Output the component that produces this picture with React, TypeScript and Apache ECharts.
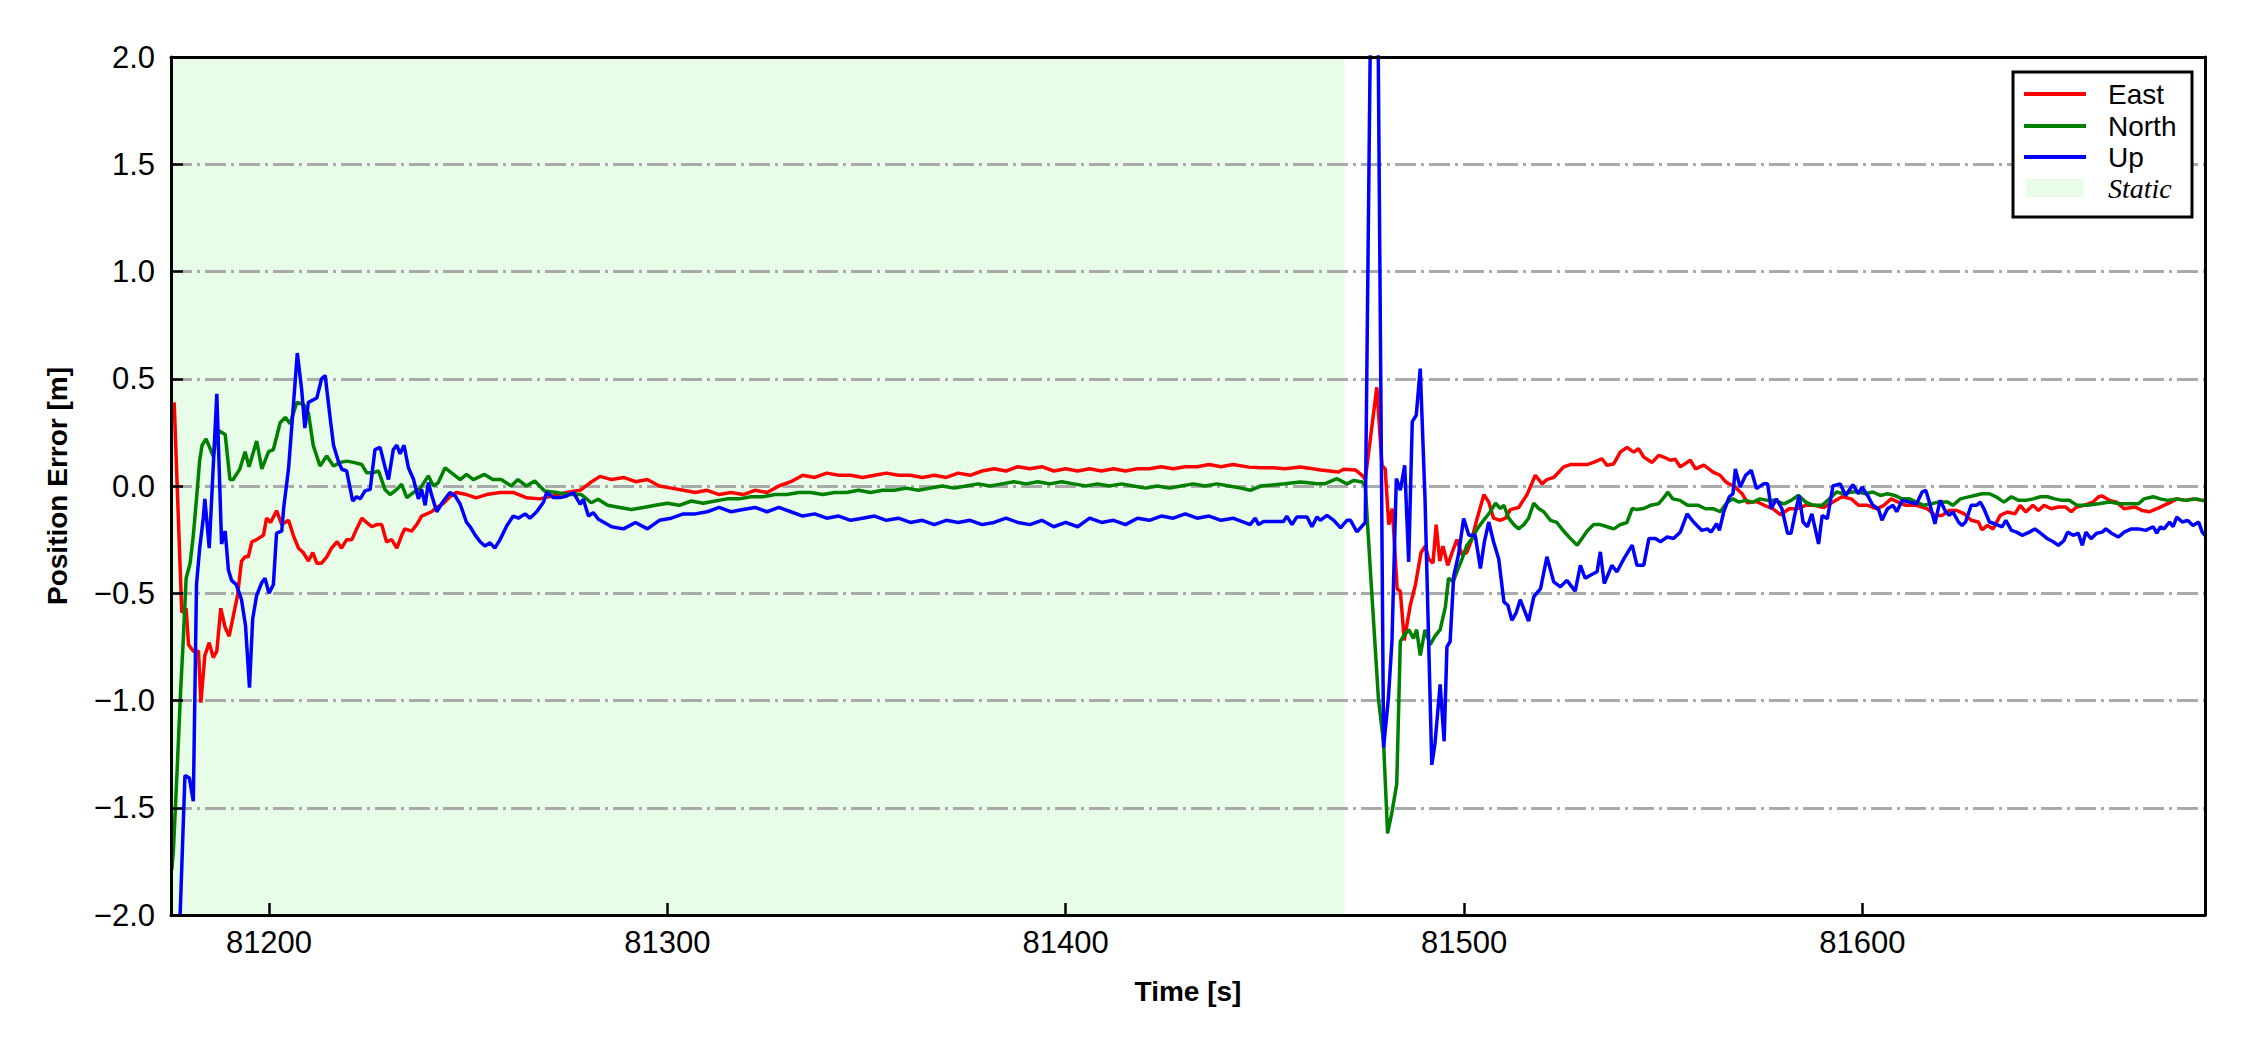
import React, { useEffect, useRef } from "react";
import * as echarts from "echarts";

const X_MIN = 81175.4;
const X_MAX = 81686;
const STATIC_END = 81470;
const xTicks = [81200, 81300, 81400, 81500, 81600];
const yMin = -2;
const yMax = 2;
const yStep = 0.5;
const seriesNames = ["East", "North", "Up"];
const staticLabel = "Static";

const eastData: number[][] = [
  [81176.2, 0.39], [81178.1, -0.59], [81179.2, -0.57], [81179.8, -0.74], [81181.0, -0.77], [81182.3, -0.77],
  [81182.9, -1.01], [81183.9, -0.79], [81185.0, -0.73], [81186.0, -0.8], [81186.9, -0.77], [81187.9, -0.57],
  [81189.0, -0.66], [81190.0, -0.7], [81191.0, -0.61], [81192.1, -0.51], [81193.1, -0.35], [81194.0, -0.33],
  [81194.8, -0.33], [81195.7, -0.26], [81196.9, -0.25], [81198.6, -0.23], [81199.4, -0.15], [81200.4, -0.17],
  [81201.9, -0.115], [81203.2, -0.18], [81204.9, -0.16], [81206.1, -0.23], [81207.4, -0.29], [81208.6, -0.31],
  [81209.9, -0.35], [81211.0, -0.31], [81212.0, -0.36], [81213.2, -0.36], [81214.5, -0.33], [81215.7, -0.29],
  [81217.1, -0.26], [81218.2, -0.29], [81219.5, -0.25], [81220.8, -0.25], [81222.0, -0.2], [81223.3, -0.15],
  [81224.5, -0.17], [81225.8, -0.19], [81227.0, -0.18], [81228.3, -0.18], [81229.5, -0.26], [81230.8, -0.25],
  [81232.1, -0.29], [81233.3, -0.23], [81234.1, -0.2], [81235.8, -0.21], [81237.1, -0.18], [81238.3, -0.14],
  [81239.6, -0.13], [81240.8, -0.12], [81242.1, -0.1], [81243.8, -0.08], [81245.4, -0.05], [81247.0, -0.03],
  [81249.6, -0.04], [81252.0, -0.055], [81254.6, -0.04], [81258.0, -0.03], [81261.3, -0.03], [81264.7, -0.055],
  [81268.0, -0.06], [81271.4, -0.045], [81274.7, -0.03], [81278.1, -0.02], [81280.6, 0.015], [81283.1, 0.045],
  [81286, 0.03], [81289, 0.04], [81292, 0.02], [81295, 0.03], [81298, 0.0], [81301, -0.01], [81304, -0.02],
  [81307, -0.03], [81310, -0.02], [81313, -0.04], [81316, -0.03], [81319, -0.04], [81322, -0.02], [81325, -0.03],
  [81328, 0.0], [81331, 0.02], [81334, 0.05], [81337, 0.04], [81340, 0.06], [81343, 0.05], [81346, 0.05],
  [81349, 0.04], [81352, 0.05], [81355, 0.06], [81358, 0.05], [81361, 0.05], [81364, 0.04], [81367, 0.05],
  [81370, 0.04], [81373, 0.06], [81376, 0.05], [81379, 0.07], [81382, 0.08], [81385, 0.07], [81388, 0.09],
  [81391, 0.08], [81394, 0.09], [81397, 0.07], [81400, 0.08], [81403, 0.07], [81406, 0.08], [81409, 0.07],
  [81412, 0.08], [81415, 0.07], [81418, 0.08], [81421, 0.08], [81424, 0.09], [81427, 0.08], [81430, 0.09],
  [81433, 0.09], [81436, 0.1], [81439, 0.09], [81442, 0.1], [81446, 0.088], [81449, 0.085], [81452, 0.085],
  [81455, 0.08], [81458.9, 0.089], [81462, 0.08], [81464, 0.075], [81468.5, 0.065], [81469.8, 0.078],
  [81472.7, 0.075], [81474.4, 0.05], [81475.2, 0.03], [81478.1, 0.46], [81479.4, 0.096], [81480.2, 0.08],
  [81481.1, -0.18], [81482.0, -0.105], [81483.2, -0.48], [81484.0, -0.49], [81485.0, -0.72], [81486.5, -0.556],
  [81487.8, -0.46], [81489.2, -0.31], [81490.3, -0.28], [81491.1, -0.34], [81492.2, -0.36], [81493.0, -0.18],
  [81493.9, -0.35], [81494.7, -0.28], [81495.9, -0.37], [81497.0, -0.31], [81498.2, -0.25], [81499.5, -0.32],
  [81500.7, -0.31], [81502.0, -0.245], [81503.3, -0.15], [81505.0, -0.04], [81506.2, -0.075], [81507.4, -0.15],
  [81509.1, -0.16], [81510.4, -0.15], [81511.6, -0.11], [81513.7, -0.1], [81515.8, -0.04], [81517.9, 0.05],
  [81519.6, 0.01], [81520.8, 0.03], [81522.5, 0.04], [81523.8, 0.065], [81525.0, 0.089], [81526.7, 0.1],
  [81528.4, 0.1], [81530.9, 0.1], [81532.5, 0.11], [81534.6, 0.127], [81535.9, 0.096], [81537.6, 0.104],
  [81539.2, 0.158], [81540.9, 0.18], [81542.6, 0.158], [81543.8, 0.174], [81545.1, 0.135], [81547.2, 0.11],
  [81548.9, 0.143], [81550.1, 0.135], [81551.8, 0.12], [81553.0, 0.125], [81554.3, 0.089], [81556.8, 0.12],
  [81558.1, 0.08], [81560.2, 0.097], [81562.5, 0.065], [81564.3, 0.05], [81565.7, 0.019], [81568.0, -0.005],
  [81569.8, -0.036], [81571.1, -0.078], [81573.4, -0.072], [81575.7, -0.093], [81577.5, -0.106], [81579.4, -0.134],
  [81581.6, -0.106], [81583.5, -0.106], [81585.8, -0.09], [81588.0, -0.09], [81590.3, -0.1], [81592.6, -0.075],
  [81594.9, -0.05], [81597.2, -0.06], [81599.0, -0.09], [81601.3, -0.09], [81603.6, -0.106], [81605.4, -0.09],
  [81607.2, -0.06], [81609.0, -0.075], [81610.9, -0.09], [81613.6, -0.09], [81616.3, -0.106], [81618.2, -0.137],
  [81620.0, -0.137], [81621.8, -0.114], [81623.6, -0.114], [81625.5, -0.129], [81627.3, -0.16], [81629.1, -0.168],
  [81630.0, -0.204], [81631.4, -0.184], [81632.8, -0.2], [81634.6, -0.137], [81636.4, -0.121], [81638.3, -0.13],
  [81639.6, -0.09], [81641.0, -0.121], [81642.8, -0.09], [81644.2, -0.114], [81645.6, -0.09], [81647.4, -0.106],
  [81649.2, -0.098], [81651.0, -0.098], [81652.4, -0.12], [81653.8, -0.098], [81655.6, -0.09], [81657.9, -0.075],
  [81659.3, -0.05], [81660.2, -0.047], [81662.0, -0.067], [81663.8, -0.075], [81665.7, -0.106], [81668.4, -0.098],
  [81670.2, -0.114], [81672.1, -0.12], [81673.9, -0.106], [81675.7, -0.09], [81677.5, -0.075], [81678.9, -0.06],
  [81681.2, -0.067], [81683.0, -0.06], [81685.3, -0.067], [81686, -0.065],
];

const northData: number[][] = [
  [81175.6, -1.79], [81176.0, -1.7], [81177.0, -1.3], [81177.8, -0.96], [81178.5, -0.71], [81179.2, -0.43],
  [81180.2, -0.36], [81181.0, -0.23], [81181.8, -0.06], [81182.6, 0.12], [81183.2, 0.19], [81184.2, 0.22],
  [81186.0, 0.14], [81187.2, 0.26], [81189.0, 0.24], [81190.2, 0.03], [81191.0, 0.03], [81192.7, 0.08],
  [81194.0, 0.16], [81195.0, 0.09], [81196.9, 0.21], [81198.2, 0.08], [81199.9, 0.16], [81201.1, 0.17],
  [81202.8, 0.295], [81204.1, 0.32], [81205.3, 0.29], [81207.0, 0.39], [81208.7, 0.38], [81209.9, 0.34],
  [81211.1, 0.19], [81212.8, 0.093], [81214.5, 0.14], [81216.2, 0.093], [81217.9, 0.11], [81219.5, 0.116],
  [81221.2, 0.11], [81223.3, 0.1], [81224.5, 0.062], [81226.2, 0.062], [81227.5, 0.07], [81229.1, -0.016],
  [81230.4, -0.04], [81232.1, -0.016], [81233.3, 0.008], [81234.6, -0.054], [81236.3, -0.03], [81238.0, -0.01],
  [81240.0, 0.047], [81241.3, 0.0], [81242.5, 0.016], [81244.2, 0.085], [81245.9, 0.06], [81248.0, 0.03],
  [81249.6, 0.054], [81251.3, 0.03], [81254.1, 0.054], [81256.2, 0.03], [81258.3, 0.03], [81260.8, 0.0],
  [81262.5, 0.03], [81264.6, 0.0], [81266.7, 0.023], [81269.2, -0.023], [81272.2, -0.03], [81275.1, -0.04],
  [81278.4, -0.04], [81280.9, -0.078], [81282.6, -0.062], [81285, -0.09], [81288, -0.1], [81291, -0.11],
  [81294, -0.1], [81297, -0.09], [81300, -0.08], [81303, -0.09], [81306, -0.07], [81309, -0.08], [81312, -0.07],
  [81315, -0.06], [81318, -0.06], [81321, -0.05], [81324, -0.05], [81327, -0.04], [81330, -0.04], [81333, -0.03],
  [81336, -0.03], [81339, -0.04], [81342, -0.03], [81345, -0.03], [81348, -0.02], [81351, -0.03], [81354, -0.02],
  [81357, -0.02], [81360, -0.01], [81363, -0.02], [81366, -0.01], [81369, 0.0], [81372, -0.01], [81375, 0.0],
  [81378, 0.01], [81381, 0.0], [81384, 0.01], [81387, 0.02], [81390, 0.01], [81393, 0.02], [81396, 0.01],
  [81399, 0.02], [81402, 0.01], [81405, 0.0], [81408, 0.01], [81411, 0.0], [81414, 0.01], [81417, 0.0],
  [81420, -0.01], [81423, 0.0], [81426, -0.01], [81429, 0.0], [81432, 0.01], [81435, 0.0], [81438, 0.01],
  [81441, 0.0], [81444, -0.01], [81446.3, -0.02], [81449, 0.0], [81452, 0.005], [81455, 0.01], [81458.9, 0.019],
  [81461, 0.015], [81463, 0.01], [81465, 0.01], [81468.1, 0.034], [81470.6, 0.01], [81472.3, 0.026],
  [81474.4, 0.019], [81475.2, 0.0], [81476.6, -0.43], [81478.5, -0.99], [81479.8, -1.2], [81480.8, -1.62],
  [81481.9, -1.52], [81483.1, -1.39], [81484.0, -0.725], [81484.8, -0.7], [81486.1, -0.67], [81487.3, -0.71],
  [81488.1, -0.67], [81489.0, -0.79], [81490.2, -0.67], [81491.5, -0.74], [81492.7, -0.7], [81494.0, -0.67],
  [81495.3, -0.565], [81496.1, -0.43], [81497.3, -0.445], [81498.2, -0.4], [81499.5, -0.34], [81500.7, -0.276],
  [81502.0, -0.245], [81503.3, -0.2], [81504.9, -0.16], [81506.6, -0.12], [81507.9, -0.08], [81509.1, -0.105],
  [81510.0, -0.09], [81511.2, -0.15], [81512.5, -0.18], [81513.7, -0.2], [81515.0, -0.18], [81516.2, -0.15],
  [81517.5, -0.08], [81518.7, -0.105], [81520.0, -0.12], [81521.7, -0.16], [81523.3, -0.17], [81525.0, -0.21],
  [81526.7, -0.245], [81528.4, -0.276], [81529.6, -0.245], [81530.9, -0.21], [81532.5, -0.18], [81534.2, -0.18],
  [81535.9, -0.19], [81537.6, -0.2], [81539.2, -0.18], [81540.9, -0.17], [81542.2, -0.105], [81543.4, -0.11],
  [81545.1, -0.105], [81546.8, -0.09], [81548.8, -0.083], [81550.6, -0.044], [81551.1, -0.028], [81552.4, -0.06],
  [81554.2, -0.067], [81556.1, -0.09], [81558.8, -0.09], [81560.6, -0.106], [81562.5, -0.106], [81564.3, -0.12],
  [81566.1, -0.075], [81567.5, -0.06], [81568.9, -0.075], [81570.7, -0.067], [81572.5, -0.075], [81574.3, -0.06],
  [81576.2, -0.067], [81578.0, -0.067], [81580.3, -0.083], [81582.1, -0.067], [81583.9, -0.044], [81585.8, -0.075],
  [81587.6, -0.09], [81589.9, -0.09], [81591.7, -0.06], [81593.5, -0.028], [81595.3, -0.036], [81597.2, -0.028],
  [81599.0, -0.028], [81600.8, -0.036], [81602.6, -0.028], [81604.5, -0.044], [81606.3, -0.036], [81608.1, -0.044],
  [81609.9, -0.06], [81611.8, -0.06], [81613.6, -0.075], [81615.4, -0.09], [81617.3, -0.083], [81619.1, -0.075],
  [81621.4, -0.075], [81622.7, -0.09], [81624.6, -0.06], [81626.4, -0.052], [81628.2, -0.044], [81630.0, -0.036],
  [81631.9, -0.036], [81633.7, -0.052], [81635.5, -0.075], [81637.4, -0.05], [81639.2, -0.067], [81641.0, -0.067],
  [81642.8, -0.06], [81644.7, -0.05], [81646.5, -0.05], [81648.3, -0.06], [81650.1, -0.067], [81652.0, -0.067],
  [81653.8, -0.09], [81656.5, -0.09], [81659.3, -0.083], [81662.0, -0.075], [81664.7, -0.083], [81667.5, -0.083],
  [81669.3, -0.083], [81670.7, -0.06], [81673.0, -0.05], [81674.8, -0.06], [81676.6, -0.067], [81678.9, -0.06],
  [81681.2, -0.067], [81683.9, -0.06], [81685.3, -0.067], [81686, -0.07],
];

const upData: number[][] = [
  [81176.2, -2.8], [81178.9, -1.35], [81180.0, -1.36], [81181.0, -1.47], [81181.8, -0.46], [81182.6, -0.29],
  [81183.5, -0.15], [81183.9, -0.06], [81185.0, -0.29], [81186.9, 0.43], [81188.1, -0.27], [81189.0, -0.21],
  [81189.8, -0.39], [81190.6, -0.44], [81191.8, -0.46], [81193.1, -0.53], [81194.1, -0.65], [81195.1, -0.94],
  [81195.9, -0.62], [81196.9, -0.51], [81198.2, -0.45], [81199.0, -0.43], [81200.0, -0.5], [81201.1, -0.46],
  [81201.9, -0.22], [81203.2, -0.21], [81203.7, -0.1], [81204.9, 0.08], [81206.1, 0.37], [81207.1, 0.62],
  [81208.2, 0.45], [81209.0, 0.27], [81209.9, 0.39], [81212.0, 0.41], [81213.2, 0.5], [81214.1, 0.515],
  [81215.4, 0.31], [81216.2, 0.19], [81217.5, 0.11], [81218.3, 0.078], [81219.5, 0.07], [81221.0, -0.07],
  [81222.0, -0.05], [81222.9, -0.06], [81224.1, -0.023], [81225.4, -0.016], [81226.6, 0.17], [81227.9, 0.18],
  [81229.1, 0.09], [81230.0, 0.03], [81231.2, 0.17], [81232.1, 0.19], [81232.9, 0.15], [81233.9, 0.19],
  [81235.0, 0.085], [81236.3, 0.03], [81237.5, -0.06], [81238.3, -0.016], [81239.2, -0.09], [81240.0, 0.016],
  [81240.9, -0.047], [81242.1, -0.12], [81243.8, -0.07], [81245.4, -0.03], [81246.7, -0.045], [81248.0, -0.085],
  [81249.6, -0.17], [81250.5, -0.19], [81251.8, -0.23], [81253.0, -0.26], [81254.2, -0.28], [81255.5, -0.265],
  [81256.7, -0.29], [81258.0, -0.25], [81259.7, -0.185], [81261.3, -0.14], [81262.6, -0.15], [81264.3, -0.13],
  [81265.5, -0.15], [81267.2, -0.12], [81268.9, -0.076], [81269.7, -0.03], [81271.4, -0.054], [81273.1, -0.054],
  [81274.7, -0.047], [81276.4, -0.03], [81278.1, -0.085], [81278.9, -0.062], [81280.2, -0.14], [81281.4, -0.124],
  [81282.7, -0.155], [81286, -0.19], [81289, -0.2], [81292, -0.17], [81295, -0.2], [81298, -0.16], [81301, -0.15],
  [81304, -0.13], [81307, -0.13], [81310, -0.12], [81313, -0.1], [81316, -0.12], [81319, -0.11], [81322, -0.1],
  [81325, -0.12], [81328, -0.1], [81331, -0.12], [81334, -0.14], [81337, -0.13], [81340, -0.15], [81343, -0.14],
  [81346, -0.16], [81349, -0.15], [81352, -0.14], [81355, -0.16], [81358, -0.15], [81361, -0.17], [81364, -0.16],
  [81367, -0.18], [81370, -0.16], [81373, -0.17], [81376, -0.16], [81379, -0.18], [81382, -0.17], [81385, -0.15],
  [81388, -0.17], [81391, -0.18], [81394, -0.16], [81397, -0.19], [81400, -0.17], [81403, -0.19], [81406, -0.15],
  [81409, -0.17], [81412, -0.16], [81415, -0.18], [81418, -0.15], [81421, -0.16], [81424, -0.14], [81427, -0.15],
  [81430, -0.13], [81433, -0.15], [81436, -0.14], [81439, -0.16], [81442, -0.15], [81446.3, -0.18],
  [81447.6, -0.15], [81448.4, -0.18], [81449.7, -0.165], [81452.2, -0.165], [81454.7, -0.165], [81455.5, -0.14],
  [81456.8, -0.18], [81458.0, -0.145], [81460.6, -0.144], [81461.8, -0.19], [81463.1, -0.144], [81463.9, -0.16],
  [81465.6, -0.137], [81467.3, -0.16], [81469.0, -0.195], [81470.6, -0.16], [81471.5, -0.16], [81473.1, -0.214],
  [81475.2, -0.17], [81477.6, 4.1], [81479.8, -1.22], [81481.0, -0.99], [81481.9, -0.725], [81483.0, 0.035],
  [81484.0, -0.02], [81485.1, 0.096], [81486.1, -0.354], [81487.0, 0.3], [81488.0, 0.33], [81489.0, 0.547],
  [81490.2, -0.06], [81491.9, -1.3], [81492.7, -1.2], [81494.0, -0.925], [81495.0, -1.19], [81495.7, -0.75],
  [81496.5, -0.725], [81497.4, -0.42], [81498.6, -0.32], [81499.9, -0.152], [81501.2, -0.23], [81502.8, -0.23],
  [81504.1, -0.385], [81505.1, -0.26], [81506.2, -0.168], [81507.4, -0.26], [81508.7, -0.34], [81510.0, -0.54],
  [81511.0, -0.556], [81512.0, -0.626], [81513.1, -0.59], [81514.1, -0.53], [81516.2, -0.63], [81517.5, -0.517],
  [81519.2, -0.478], [81520.8, -0.33], [81522.5, -0.447], [81524.2, -0.47], [81525.8, -0.44], [81527.9, -0.49],
  [81529.2, -0.37], [81530.4, -0.43], [81531.7, -0.416], [81533.4, -0.4], [81534.2, -0.307], [81535.2, -0.455],
  [81537.1, -0.37], [81538.4, -0.4], [81540.1, -0.34], [81542.2, -0.276], [81543.4, -0.37], [81545.1, -0.37],
  [81546.4, -0.245], [81548.0, -0.245], [81549.3, -0.26], [81551.0, -0.238], [81552.6, -0.245], [81554.3, -0.214],
  [81556.0, -0.13], [81557.6, -0.168], [81559.7, -0.207], [81561.1, -0.2], [81562.0, -0.215], [81563.4, -0.176],
  [81564.1, -0.207], [81565.2, -0.12], [81566.6, -0.05], [81567.5, -0.036], [81568.1, 0.08], [81569.3, -0.005],
  [81570.7, 0.05], [81572.1, 0.073], [81573.4, -0.012], [81575.2, 0.01], [81576.2, 0.01], [81577.1, -0.106],
  [81578.4, -0.06], [81579.8, -0.106], [81581.2, -0.22], [81582.1, -0.22], [81583.0, -0.137], [81584.1, -0.044],
  [81585.1, -0.168], [81586.2, -0.19], [81587.3, -0.13], [81589.0, -0.27], [81589.9, -0.137], [81591.2, -0.153],
  [81592.6, 0.0], [81594.4, 0.01], [81595.8, -0.044], [81597.6, 0.006], [81599.0, -0.036], [81599.9, -0.005],
  [81601.3, -0.044], [81602.6, -0.09], [81604.0, -0.106], [81604.9, -0.16], [81606.3, -0.106], [81607.7, -0.09],
  [81608.6, -0.12], [81610.0, -0.067], [81611.8, -0.075], [81613.6, -0.083], [81615.0, -0.028], [81615.9, -0.02],
  [81616.8, -0.075], [81618.2, -0.176], [81619.5, -0.067], [81620.9, -0.12], [81621.8, -0.137], [81622.7, -0.12],
  [81624.1, -0.168], [81625.0, -0.184], [81625.9, -0.168], [81627.3, -0.09], [81628.7, -0.09], [81629.6, -0.075],
  [81630.5, -0.106], [81631.9, -0.168], [81633.2, -0.176], [81635.1, -0.19], [81636.0, -0.16], [81637.4, -0.207],
  [81638.7, -0.215], [81640.1, -0.23], [81641.9, -0.215], [81643.3, -0.2], [81644.7, -0.22], [81646.5, -0.246],
  [81647.9, -0.26], [81649.2, -0.277], [81650.6, -0.254], [81651.5, -0.215], [81652.9, -0.23], [81654.2, -0.22],
  [81655.2, -0.277], [81656.1, -0.215], [81657.4, -0.246], [81658.8, -0.22], [81660.2, -0.215], [81661.1, -0.2],
  [81662.5, -0.22], [81664.3, -0.238], [81665.7, -0.215], [81667.5, -0.2], [81669.3, -0.2], [81671.1, -0.207],
  [81673.0, -0.19], [81673.9, -0.22], [81674.8, -0.19], [81675.7, -0.2], [81677.1, -0.168], [81678.0, -0.19],
  [81678.9, -0.145], [81680.3, -0.168], [81681.6, -0.16], [81683.0, -0.184], [81684.4, -0.168], [81685.3, -0.215],
  [81686, -0.23],
];

const COLORS = ["#ff0000", "#008000", "#0000ff"];
const STATIC_COLOR = "#e8fde8";
const SANS = "'Liberation Sans', Arial, Helvetica, sans-serif";
const SERIF = "'Liberation Serif', 'Times New Roman', serif";

export default function App() {
  const ref = useRef<HTMLDivElement>(null);
  useEffect(() => {
    if (!ref.current) return;
    const chart = echarts.init(ref.current, undefined, { renderer: "svg" });
    const fmtY = (v: number) => v.toFixed(1).replace("-", "\u2212");
    const lineSeries = [eastData, northData, upData].map((d, i) => ({
      name: seriesNames[i],
      type: "line",
      data: d,
      showSymbol: false,
      symbol: "none",
      clip: true,
      z: 5 + i,
      lineStyle: { color: COLORS[i], width: 3.5 },
      itemStyle: { color: COLORS[i] },
    }));
    const legendRows = [
      { y: 94, color: COLORS[0], text: seriesNames[0] },
      { y: 126, color: COLORS[1], text: seriesNames[1] },
      { y: 157, color: COLORS[2], text: seriesNames[2] },
    ];
    const graphic: any[] = [
      {
        type: "rect",
        shape: { x: 2013, y: 72, width: 179, height: 145 },
        style: { fill: "#ffffff", stroke: "#000000", lineWidth: 3 },
        z: 100,
      },
      ...legendRows.map((r) => ({
        type: "line",
        shape: { x1: 2024, y1: r.y, x2: 2086, y2: r.y },
        style: { stroke: r.color, lineWidth: 4 },
        z: 101,
      })),
      ...legendRows.map((r) => ({
        type: "text",
        x: 2108,
        y: r.y,
        style: { text: r.text, fontSize: 28, fontFamily: SANS, fill: "#000", verticalAlign: "middle", align: "left" },
        z: 101,
      })),
      {
        type: "rect",
        shape: { x: 2026, y: 179, width: 58, height: 18 },
        style: { fill: STATIC_COLOR },
        z: 101,
      },
      {
        type: "text",
        x: 2108,
        y: 188,
        style: {
          text: staticLabel,
          fontSize: 28,
          fontFamily: SERIF,
          fontStyle: "italic",
          fill: "#000",
          verticalAlign: "middle",
          align: "left",
        },
        z: 101,
      },
    ];
    chart.setOption({
      animation: false,
      backgroundColor: "#ffffff",
      grid: { left: 171, right: 45, top: 57, bottom: 135, containLabel: false },
      xAxis: [
        {
          type: "value",
          min: X_MIN,
          max: X_MAX,
          position: "bottom",
          z: 10,
          name: "Time [s]",
          nameLocation: "middle",
          nameGap: 62,
          nameTextStyle: { fontFamily: SANS, fontSize: 28, fontWeight: "bold", color: "#000" },
          axisLine: { show: true, onZero: false, lineStyle: { color: "#000", width: 3 } },
          axisTick: { show: true, inside: true, length: 12, customValues: xTicks, lineStyle: { color: "#000", width: 2.5 } },
          axisLabel: {
            show: true,
            customValues: xTicks,
            margin: 12,
            fontFamily: SANS,
            fontSize: 31,
            color: "#000",
            formatter: (v: number) => String(Math.round(v)),
          },
          splitLine: { show: false },
        },
        {
          type: "value",
          min: X_MIN,
          max: X_MAX,
          position: "top",
          z: 10,
          axisLine: { show: true, onZero: false, lineStyle: { color: "#000", width: 3 } },
          axisTick: { show: false },
          axisLabel: { show: false },
          splitLine: { show: false },
        },
      ],
      yAxis: [
        {
          type: "value",
          min: yMin,
          max: yMax,
          interval: yStep,
          position: "left",
          z: 10,
          name: "Position Error [m]",
          nameLocation: "middle",
          nameGap: 100,
          nameTextStyle: { fontFamily: SANS, fontSize: 28, fontWeight: "bold", color: "#000" },
          axisLine: { show: true, onZero: false, lineStyle: { color: "#000", width: 3 } },
          axisTick: { show: true, inside: true, length: 12, lineStyle: { color: "#000", width: 2.5 } },
          axisLabel: { show: true, margin: 16, fontFamily: SANS, fontSize: 31, color: "#000", formatter: fmtY },
          splitLine: { show: false },
        },
        {
          type: "value",
          min: yMin,
          max: yMax,
          interval: yStep,
          position: "right",
          z: 10,
          axisLine: { show: true, onZero: false, lineStyle: { color: "#000", width: 3 } },
          axisTick: { show: false },
          axisLabel: { show: false },
          splitLine: { show: false },
        },
        {
          type: "value",
          min: yMin,
          max: yMax,
          interval: yStep,
          position: "right",
          z: 3,
          axisLine: { show: false },
          axisTick: { show: false },
          axisLabel: { show: false },
          splitLine: {
            show: true,
            showMinLine: false,
            showMaxLine: false,
            lineStyle: { color: "#aaaaaa", width: 3, type: [21, 5, 3, 5] },
          },
        },
      ],
      series: [
        {
          name: staticLabel,
          type: "line",
          data: [],
          z: 1,
          silent: true,
          markArea: {
            silent: true,
            z: 1,
            itemStyle: { color: STATIC_COLOR, opacity: 1 },
            data: [[{ xAxis: X_MIN }, { xAxis: STATIC_END }]],
          },
        },
        ...lineSeries,
      ],
      graphic,
    });
    return () => chart.dispose();
  }, []);
  return <div ref={ref} style={{ position: "absolute", left: 0, top: 0, width: 2250, height: 1050 }} />;
}
